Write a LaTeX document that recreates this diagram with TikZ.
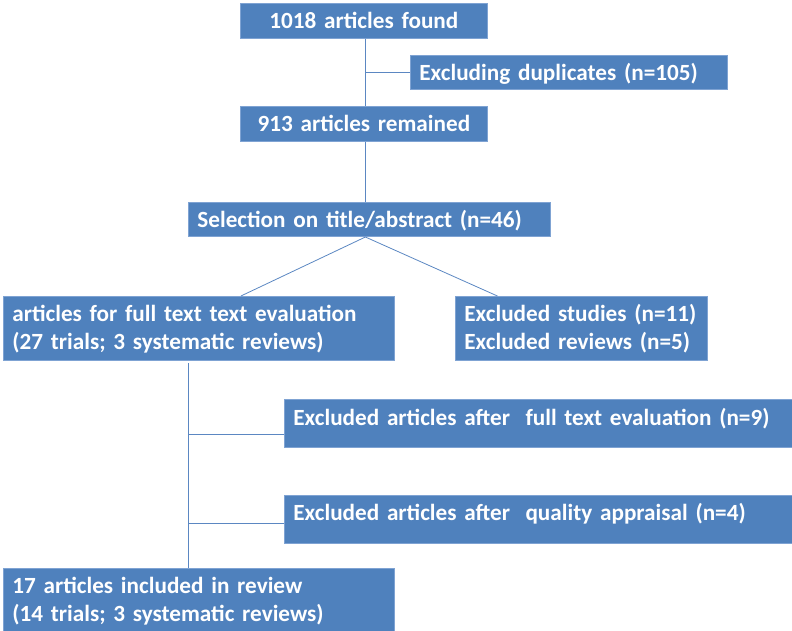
\documentclass[tikz,border=0pt]{standalone}
\usepackage{fontspec}
\setmainfont{Carlito}[WordSpace=0.85]
\usepackage{xcolor}
\definecolor{boxblue}{HTML}{4F81BD}
\definecolor{edgeblue}{HTML}{7FA3D3}
\definecolor{linkblue}{HTML}{5B87C2}
\tikzset{
  box/.style={fill=boxblue, draw=edgeblue, line width=0.8pt, text=white,
    font=\bfseries\fontsize{23.2}{28}\selectfont, anchor=north west,
    inner xsep=9pt, inner ysep=0pt, text height=25.5pt, align=left},
  midbox/.style={box, inner xsep=0pt, align=center},
  link/.style={draw=linkblue, line width=0.8pt}
}

\begin{document}
\begin{tikzpicture}[x=1pt, y=-1pt]
            \useasboundingbox (0,0) rectangle (792,630);

            % Top of the chart
            \node[midbox, text width=247pt, text depth=9.5pt] (found) at (240,3) {1018 articles found};
            \node[box, text width=299pt, text depth=9pt] (dupl) at (410,54.5) {Excluding duplicates (n=105)};
            \node[midbox, text width=247pt, text depth=9.5pt] (remain) at (240,106) {913 articles remained};
            \node[box, text width=344pt, text depth=9pt] (select) at (188,201.7) {Selection on title/abstract (n=46)};

            \draw[link] ([xshift=1.5pt]found.south) -- ([xshift=1.5pt]remain.north);
            \draw[link] ([xshift=1.5pt]found.south |- dupl.west) -- (dupl.west);
            \draw[link] ([xshift=1.5pt]remain.south) -- ([xshift=1.5pt]remain.south |- select.north);

            % Split after selection
            \node[box, text width=373pt, text depth=38pt] (fulltext) at (3,296) {articles for full text text evaluation\\(27 trials; 3 systematic reviews)};
            \node[box, text width=234pt, text depth=38pt] (exclA) at (455,296) {Excluded studies (n=11)\\Excluded reviews (n=5)};

            \coordinate (split) at ([xshift=1.5pt]remain.south |- select.south);
            \draw[link] (split) -- ([xshift=42pt]fulltext.north);
            \draw[link] (split) -- ([xshift=-84pt]exclA.north);

            % Exclusions and final set
            \node[box, text width=490pt, text depth=22pt] (exclB) at (284,399.3) {Excluded articles after\ \ full text evaluation (n=9)};
            \node[box, text width=490pt, text depth=22.5pt] (exclC) at (284,495) {Excluded articles after\ \ quality appraisal (n=4)};
            \node[box, text width=373pt, text depth=40pt] (incl) at (3,568) {17 articles included in review\\(14 trials; 3 systematic reviews)};

            \coordinate (trunk) at ([xshift=-10.5pt, yshift=-3pt]fulltext.south);
            \draw[link] (trunk) -- (trunk |- incl.north);
            \draw[link] ([yshift=-11pt]trunk |- exclB.west) -- ([yshift=-11pt]exclB.west);
            \draw[link] ([yshift=-4pt]trunk |- exclC.west) -- ([yshift=-4pt]exclC.west);
        \end{tikzpicture}
\end{document}
